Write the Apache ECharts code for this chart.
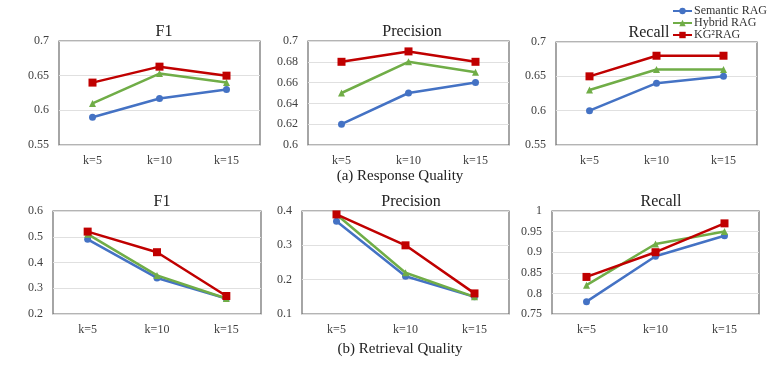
<!DOCTYPE html>
<html><head><meta charset="utf-8">
<script src="https://cdn.jsdelivr.net/npm/echarts@6/dist/echarts.min.js"></script>
<style>html,body{margin:0;padding:0;background:#fff}#c{width:778px;height:367px}</style>
</head><body><div id="c"></div>
<script>
const categories = ['k=5', 'k=10', 'k=15'];
const seriesNames = ['Semantic RAG', 'Hybrid RAG', 'KG²RAG'];
// Response quality
const respF1_semantic = [0.59, 0.617, 0.63];
const respF1_hybrid = [0.61, 0.653, 0.64];
const respF1_kg = [0.64, 0.663, 0.65];
const respP_semantic = [0.62, 0.65, 0.66];
const respP_hybrid = [0.65, 0.68, 0.67];
const respP_kg = [0.68, 0.69, 0.68];
const respR_semantic = [0.60, 0.64, 0.65];
const respR_hybrid = [0.63, 0.66, 0.66];
const respR_kg = [0.65, 0.68, 0.68];
// Retrieval quality
const retF1_semantic = [0.49, 0.34, 0.26];
const retF1_hybrid = [0.51, 0.35, 0.26];
const retF1_kg = [0.52, 0.44, 0.27];
const retP_semantic = [0.37, 0.21, 0.15];
const retP_hybrid = [0.39, 0.22, 0.15];
const retP_kg = [0.39, 0.30, 0.16];
const retR_semantic = [0.78, 0.89, 0.94];
const retR_hybrid = [0.82, 0.92, 0.95];
const retR_kg = [0.84, 0.90, 0.97];

const panelTitles = ['F1', 'Precision', 'Recall', 'F1', 'Precision', 'Recall'];
const yMins = [0.55, 0.6, 0.55, 0.2, 0.1, 0.75];
const yMaxs = [0.7, 0.7, 0.7, 0.6, 0.4, 1];
const yIntervals = [0.05, 0.02, 0.05, 0.1, 0.1, 0.05];
const panelData = [
  [respF1_semantic, respF1_hybrid, respF1_kg],
  [respP_semantic, respP_hybrid, respP_kg],
  [respR_semantic, respR_hybrid, respR_kg],
  [retF1_semantic, retF1_hybrid, retF1_kg],
  [retP_semantic, retP_hybrid, retP_kg],
  [retR_semantic, retR_hybrid, retR_kg]
];
const captions = ['(a) Response Quality', '(b) Retrieval Quality'];

const colors = ['#4472C4', '#70AD47', '#C00000'];
const symbols = ['circle', 'triangle', 'rect'];
const FONT = '"Liberation Serif", "Times New Roman", serif';

const boxes = [
  {left: 59, top: 41, width: 201, height: 104},
  {left: 308, top: 41, width: 201, height: 104},
  {left: 556, top: 42, width: 201, height: 103},
  {left: 53, top: 211, width: 208, height: 103},
  {left: 302, top: 211, width: 207, height: 103},
  {left: 552, top: 211, width: 207, height: 103}
];
const titleCenters = [159, 407, 644, 157, 406, 656];

const grids = boxes.map(b => Object.assign({show: true, borderColor: '#6b6b6b', borderWidth: 1.2, backgroundColor: 'transparent'}, b));
const xAxes = boxes.map((b, i) => ({
  type: 'category', gridIndex: i, data: categories, boundaryGap: true,
  axisLine: {show: false}, axisTick: {show: false},
  axisLabel: {fontFamily: FONT, fontSize: 12, color: '#404040', margin: 10}
}));
const yAxes = boxes.map((b, i) => ({
  type: 'value', gridIndex: i, min: yMins[i], max: yMaxs[i], interval: yIntervals[i],
  axisLine: {show: false}, axisTick: {show: false},
  splitLine: {lineStyle: {color: '#e0e0e0', width: 1}},
  axisLabel: {fontFamily: FONT, fontSize: 12, color: '#404040', margin: 10,
    formatter: v => String(parseFloat(v.toFixed(3)))}
}));
const series = [];
panelData.forEach((pd, i) => {
  pd.forEach((d, s) => {
    series.push({
      type: 'line', name: seriesNames[s], xAxisIndex: i, yAxisIndex: i, data: d,
      symbol: symbols[s], symbolSize: s === 2 ? 8 : 7, showSymbol: true,
      lineStyle: {color: colors[s], width: 2.5}, itemStyle: {color: colors[s]},
      z: 2 + s, animation: false
    });
  });
});
const titles = boxes.map((b, i) => ({
  text: panelTitles[i], left: titleCenters[i], top: b.top - 22, textAlign: 'center',
  textStyle: {fontFamily: FONT, fontSize: 16, fontWeight: 'normal', color: '#222'}
}));
titles.push({text: captions[0], left: 395, top: 164, textAlign: 'center',
  textStyle: {fontFamily: FONT, fontSize: 15, fontWeight: 'normal', color: '#222'}});
titles.push({text: captions[1], left: 395, top: 337, textAlign: 'center',
  textStyle: {fontFamily: FONT, fontSize: 15, fontWeight: 'normal', color: '#222'}});

const chart = echarts.init(document.getElementById('c'));
chart.setOption({
  animation: false,
  color: colors,
  title: titles,
  legend: {
    data: seriesNames, orient: 'vertical', left: 672, top: 5, itemGap: 0, padding: 0,
    itemWidth: 19, itemHeight: 8,
    textStyle: {fontFamily: FONT, fontSize: 12, lineHeight: 11, color: '#333', padding: [0, 0, 0, -3]}
  },
  grid: grids, xAxis: xAxes, yAxis: yAxes, series: series
});
</script></body></html>
